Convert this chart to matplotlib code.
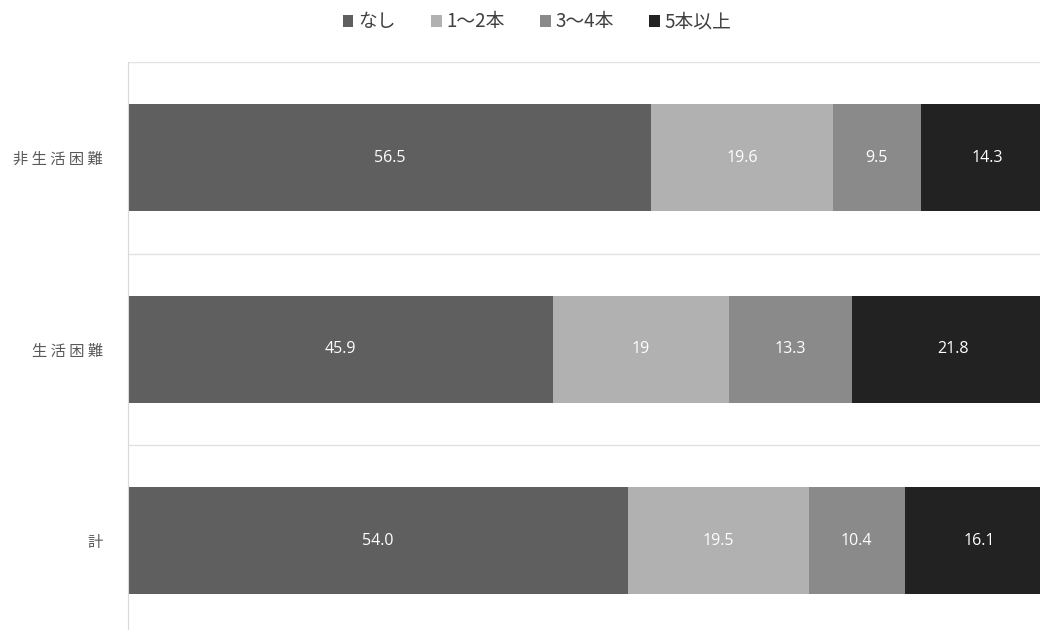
import matplotlib.pyplot as plt
import numpy as np

plt.rcParams['font.family'] = ['Noto Sans CJK JP', 'DejaVu Sans']

categories = ['非 生 活 困 難', '生 活 困 難', '計']
series_names = ['なし', '1～2本', '3～4本', '5本以上']
values = {
    'なし': [56.5, 45.9, 54.0],
    '1～2本': [19.6, 19, 19.5],
    '3～4本': [9.5, 13.3, 10.4],
    '5本以上': [14.3, 21.8, 16.1],
}
value_labels = {
    'なし': ['56.5', '45.9', '54.0'],
    '1～2本': ['19.6', '19', '19.5'],
    '3～4本': ['9.5', '13.3', '10.4'],
    '5本以上': ['14.3', '21.8', '16.1'],
}
colors = ['#5f5f5f', '#b1b1b1', '#8a8a8a', '#222222']

W, H = 1040, 630
fig = plt.figure(figsize=(W / 100, H / 100), dpi=100)
# plot area runs past the right and bottom edges of the picture
ax = fig.add_axes([128 / W, 1 - 636.5 / H, 926 / W, 574.5 / H])

y = np.arange(len(categories))[::-1]
left = np.zeros(len(categories))
for name, color in zip(series_names, colors):
    vals = np.array(values[name], dtype=float)
    ax.barh(y, vals, left=left, height=0.56, color=color, label=name)
    for yi, l, v, txt in zip(y, left, vals, value_labels[name]):
        ax.text(l + v / 2, yi, txt, ha='center', va='center',
                color='white', fontsize=11.5,
                family=['Open Sans', 'Noto Sans CJK JP'])
    left += vals

ax.set_xlim(0, 100)
ax.set_ylim(-0.5, len(categories) - 0.5)
ax.set_yticks(y)
ax.set_yticklabels(categories, fontsize=11, color='#595959')
ax.tick_params(axis='y', length=0, pad=18)
ax.set_xticks([])

for b in np.arange(-0.5, len(categories), 1.0):
    ax.axhline(b, color='#e3e3e3', lw=1, zorder=0)

for s in ['top', 'right', 'bottom']:
    ax.spines[s].set_visible(False)
ax.spines['left'].set_color('#d9d9d9')

fig.legend(loc='center', bbox_to_anchor=(537 / W, 1 - 22 / H), ncol=4,
           frameon=False, fontsize=13.5, handlelength=0.55, handleheight=0.55,
           handletextpad=0.25, columnspacing=1.9, labelcolor='#404040')

fig.savefig('out.png', dpi=100)
